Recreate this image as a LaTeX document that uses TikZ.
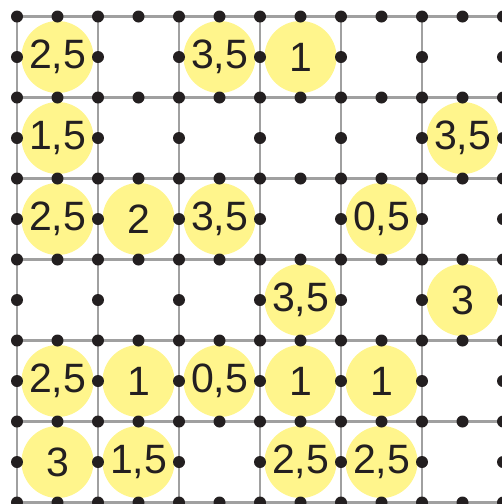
\documentclass[tikz,border=0pt]{standalone}
\usepackage{fontspec}
\setmainfont{Liberation Sans}
\definecolor{cellyellow}{RGB}{255,245,140}
\definecolor{dotblack}{RGB}{35,31,32}
\definecolor{gridgray}{RGB}{160,160,160}
\tikzset{
  gridline/.style={draw=gridgray, line width=2.2pt},
  numcircle/.style={circle, fill=cellyellow, minimum size=72pt, inner sep=0pt,
    text=dotblack, font=\fontsize{41}{41}\selectfont},
  gridpoint/.style={fill=dotblack}
}
\newcommand\numcell[3]{\node[numcircle] (n#1#2) at ({17+81*(#2-0.5)},{16.5+81*(#1-0.5)}) {#3};}
\begin{document}
\begin{tikzpicture}[x=1pt,y=-1pt]
\useasboundingbox (0,0) rectangle (502,504);
\clip (0,0) rectangle (502,504);
\foreach \i in {0,...,6} {
  \draw[gridline] ({17+81*\i},16.5) -- ({17+81*\i},502.5);
  \draw[gridline] (17,{16.5+81*\i}) -- (503,{16.5+81*\i});
}
\numcell{1}{1}{2,5}
\numcell{1}{3}{3,5}
\numcell{1}{4}{1}
\numcell{2}{1}{1,5}
\numcell{2}{6}{3,5}
\numcell{3}{1}{2,5}
\numcell{3}{2}{2}
\numcell{3}{3}{3,5}
\numcell{3}{5}{0,5}
\numcell{4}{4}{3,5}
\numcell{4}{6}{3}
\numcell{5}{1}{2,5}
\numcell{5}{2}{1}
\numcell{5}{3}{0,5}
\numcell{5}{4}{1}
\numcell{5}{5}{1}
\numcell{6}{1}{3}
\numcell{6}{2}{1,5}
\numcell{6}{4}{2,5}
\numcell{6}{5}{2,5}
\foreach \i in {0,...,12} {
  \foreach \j in {0,...,12} {
    \pgfmathtruncatemacro\odd{mod(\i,2)*mod(\j,2)}
    \ifnum\odd=0
      \fill[gridpoint] ({17+40.5*\i},{16.5+40.5*\j}) circle (6pt);
    \fi
  }
}
\end{tikzpicture}
\end{document}
